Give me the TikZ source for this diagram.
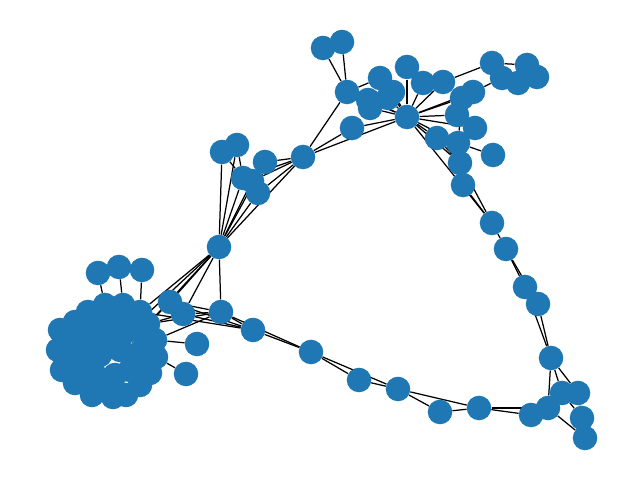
\documentclass[tikz,border=0pt]{standalone}
\usetikzlibrary{backgrounds}
\definecolor{nxblue}{HTML}{1F77B4}
\tikzset{
  vertex/.style={circle, fill=nxblue, inner sep=0pt, minimum size=0.245in},
  link/.style={black, line width=0.9pt}
}
\begin{document}
\begin{tikzpicture}[x=0.01in, y=-0.01in]
    \useasboundingbox (0,0) rectangle (640,480);

    % Dense cluster, lower left
    \foreach \n/\x/\y in {c1/60/330, c2/58/350, c3/62/370, c4/75/383, c5/92/395,
        c6/113/397, c7/126/395, c8/140/385, c9/150/373, c10/156/357, c11/155/340,
        c12/148/324, c13/140/312, c14/123/305, c15/105/305, c16/88/312, c17/75/322,
        c18/90/335, c19/110/325, c20/130/330, c21/100/355, c22/120/350, c23/135/355,
        c24/95/375, c25/115/375, c26/130/370, c27/80/350, c28/70/340, c29/82/367,
        c30/145/345, c31/105/340, c32/125/315, c33/74/358, c34/145/365, c35/108/386,
        c36/98/320, c37/120/338, c38/88/382}
        \node[vertex] (\n) at (\x,\y) {};

    % Satellites of the cluster
    \foreach \n/\x/\y in {s1/98/273, s2/119/267, s3/142/270, s4/197/344, s5/186/374,
        s6/170/302, s7/183/314}
        \node[vertex] (\n) at (\x,\y) {};

    % Lower path
    \foreach \n/\x/\y in {h/219/247, m1/221/312, b1/253/330, b2/311/352, b3/359/380,
        b4/398/389, b5/440/412, b6/479/408, b7/531/415}
        \node[vertex] (\n) at (\x,\y) {};

    % Right side
    \foreach \n/\x/\y in {p1/463/185, p2/492/223, p3/506/249, p4/525/287, p5/538/304,
        r1/551/358, r2/562/393, r3/578/393, r4/548/408, r5/582/418, r6/585/438}
        \node[vertex] (\n) at (\x,\y) {};

    % Upper left group
    \foreach \n/\x/\y in {u1/222/152, u2/237/145, u3/265/162, u4/243/178, u5/252/181,
        u6/258/193, u7/303/157}
        \node[vertex] (\n) at (\x,\y) {};

    % Upper group
    \foreach \n/\x/\y in {t1/323/48, t2/342/42, t3/347/92, t4/380/78, t5/407/67,
        t6/370/108, t7/393/92, t8/423/83, t9/443/82, hub/407/117, t10/352/128,
        t11/457/115, t12/473/92, t13/462/98, t14/475/128, t15/437/138, t16/458/143,
        t17/493/155, t18/460/163, t19/492/63, t20/527/65, t21/502/78, t22/518/83,
        t23/537/77, t24/368/100, t25/388/98}
        \node[vertex] (\n) at (\x,\y) {};

    % Edges
    \begin{scope}[on background layer]
    \foreach \a/\b in {c1/c18, c18/c19, c19/c20, c21/c22, c22/c23, c24/c25, c25/c26,
        c16/c21, c20/c23, c18/c27, c15/s1, c14/s2, c13/s3, c11/s4, c10/s5,
        c12/s6, c12/s7, c13/h, c12/h, c20/h, c11/m1, c12/m1, c13/b1,
        s6/h, s7/h, s6/m1, s7/m1, s7/b1, s6/b1, h/m1, m1/b1, m1/b2, b1/b2,
        b2/b3, b2/b4, b3/b4, b4/b5, b4/b6, b5/b6, b6/b7, b6/r4, b7/r4,
        r1/r4, r1/r2, r1/r3, r2/r4, r4/r6, r2/r5, r3/r5,
        p5/r1, p4/r1, p4/p5, p3/p4, p3/p5, p2/p3, p1/p2, t18/p2, hub/p2,
        h/u1, h/u2, h/u4, h/u5, h/u6, h/u3, h/u7, u1/u4, u2/u4, u3/u7, u4/u7,
        u5/u7, u6/u7, u6/u3,
        u7/t3, u7/t10, u7/hub, t10/hub, t3/hub, t3/t1, t3/t2, t3/t4, t3/t24,
        hub/t4, hub/t5, hub/t6, hub/t7, hub/t8, hub/t9, hub/t11, hub/t12, hub/t13,
        hub/t14, hub/t15, hub/t16, hub/t18, hub/t25, hub/t24, t16/t17, t15/t18,
        t9/t19, t19/t21, t21/t23, t12/t21, t19/t20, t20/t22, t11/t14, t13/t16}
        \draw[link] (\a) -- (\b);
    \end{scope}
\end{tikzpicture}
\end{document}
